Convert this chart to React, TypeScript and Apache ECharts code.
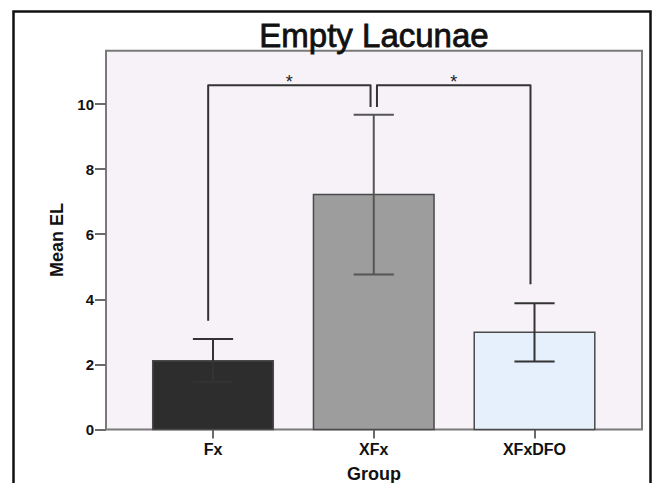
import React, { useEffect, useRef } from "react";
import * as echarts from "echarts";

const categories = ["Fx", "XFx", "XFxDFO"];
const means = [2.11, 7.22, 2.99];
const errLow = [1.47, 4.76, 2.09];
const errHigh = [2.78, 9.67, 3.88];
const barColors = ["#2d2d2d", "#9d9d9d", "#e6f0fd"];
const yTicks = [0, 2, 4, 6, 8, 10];
const xTicks = [0, 1, 2];

// significance brackets (x in category units, y in data units)
const bracketFrom = [-0.03, 1.02];
const bracketTo = [0.98, 1.975];
const bracketTop = [10.58, 10.58];
const bracketLeftEnd = [3.34, 9.91];
const bracketRightEnd = [9.91, 4.46];
const bracketLabel = ["*", "*"];

const FONT = "'Liberation Sans', Arial, sans-serif";

export default function App() {
  const ref = useRef<HTMLDivElement>(null);
  useEffect(() => {
    if (!ref.current) return;
    const chart = echarts.init(ref.current, null, { renderer: "svg" });
    const barData = categories.map((_, i) => [i, means[i]]);
    const errData = categories.map((_, i) => [i, errLow[i], errHigh[i]]);
    const brData = bracketFrom.map((_, i) => [
      bracketFrom[i],
      bracketTo[i],
      bracketTop[i],
      bracketLeftEnd[i],
      bracketRightEnd[i],
    ]);
    chart.setOption({
      animation: false,
      backgroundColor: "#ffffff",
      graphic: [
        {
          type: "rect",
          shape: { x: 13.5, y: 11.5, width: 637, height: 520 },
          style: { fill: "none", stroke: "#111", lineWidth: 2.5 },
          z: 100,
        },
        {
          type: "text",
          x: 374,
          y: 35,
          style: {
            text: "Empty Lacunae",
            fontSize: 33,
            fontFamily: FONT,
            fill: "#111",
            stroke: "#111",
            lineWidth: 0.8,
            textAlign: "center",
            textVerticalAlign: "middle",
          },
        },
      ],
      grid: {
        left: 106,
        right: 10,
        top: 50.7,
        bottom: 53.5,
        containLabel: false,
        outerBoundsMode: "none",
        show: true,
        backgroundColor: "#f6f2f8",
        borderColor: "#7a7a7a",
        borderWidth: 2,
      },
      xAxis: {
        type: "value",
        min: -0.6656,
        max: 2.6687,
        name: "Group",
        nameLocation: "middle",
        nameGap: 35,
        nameTextStyle: { fontSize: 18, fontWeight: "bold", fontFamily: FONT, color: "#111" },
        axisLine: { show: false, onZero: false },
        splitLine: { show: false },
        axisTick: { show: true, customValues: xTicks, length: 9, lineStyle: { color: "#6a6a6a", width: 2 } },
        axisLabel: {
          customValues: xTicks,
          formatter: (v: number) => categories[Math.round(v)] ?? "",
          fontSize: 16,
          fontWeight: "bold",
          fontFamily: FONT,
          color: "#111",
          margin: 12,
        },
      },
      yAxis: {
        type: "value",
        min: 0,
        max: 11.64,
        name: "Mean EL",
        nameLocation: "middle",
        nameGap: 39,
        nameTextStyle: { fontSize: 18, fontWeight: "bold", fontFamily: FONT, color: "#111" },
        axisLine: { show: false, onZero: false },
        splitLine: { show: false },
        axisTick: { show: true, customValues: yTicks, length: 11, lineStyle: { color: "#6a6a6a", width: 2 } },
        axisLabel: {
          customValues: yTicks,
          fontSize: 15,
          fontWeight: "bold",
          fontFamily: FONT,
          color: "#111",
          margin: 12,
        },
      },
      series: [
        {
          type: "custom",
          data: barData,
          renderItem: (params: any, api: any) => {
            const x = api.value(0);
            const top = api.coord([x, api.value(1)]);
            const base = api.coord([x, 0]);
            const w = api.size([0.75, 0])[0];
            return {
              type: "rect",
              shape: { x: top[0] - w / 2, y: top[1], width: w, height: base[1] - top[1] },
              style: { fill: barColors[params.dataIndex], stroke: "#4a4a4a", lineWidth: 1.5 },
            };
          },
          z: 2,
        },
        {
          type: "custom",
          data: errData,
          renderItem: (params: any, api: any) => {
            const x = api.value(0);
            const lo = api.coord([x, api.value(1)]);
            const hi = api.coord([x, api.value(2)]);
            const cw = api.size([0.25, 0])[0] / 2;
            const st = { stroke: params.dataIndex === 1 ? "#555" : "#333", lineWidth: 2 };
            return {
              type: "group",
              children: [
                { type: "line", shape: { x1: hi[0], y1: hi[1], x2: lo[0], y2: lo[1] }, style: st },
                { type: "line", shape: { x1: hi[0] - cw, y1: hi[1], x2: hi[0] + cw, y2: hi[1] }, style: st },
                { type: "line", shape: { x1: lo[0] - cw, y1: lo[1], x2: lo[0] + cw, y2: lo[1] }, style: st },
              ],
            };
          },
          z: 3,
        },
        {
          type: "custom",
          data: brData,
          renderItem: (params: any, api: any) => {
            const x1 = api.value(0);
            const x2 = api.value(1);
            const t = api.value(2);
            const p1 = api.coord([x1, api.value(3)]);
            const p2 = api.coord([x1, t]);
            const p3 = api.coord([x2, t]);
            const p4 = api.coord([x2, api.value(4)]);
            return {
              type: "group",
              children: [
                {
                  type: "polyline",
                  shape: { points: [p1, p2, p3, p4] },
                  style: { stroke: "#333", lineWidth: 2, fill: "none", lineJoin: "round" },
                },
                {
                  type: "text",
                  x: (p2[0] + p3[0]) / 2,
                  y: p2[1] - 3,
                  style: {
                    text: bracketLabel[params.dataIndex],
                    fontSize: 18,
                    fontFamily: FONT,
                    fill: "#222",
                    textAlign: "center",
                    textVerticalAlign: "middle",
                  },
                },
              ],
            };
          },
          z: 4,
        },
      ],
    });
    return () => chart.dispose();
  }, []);
  return (
    <div
      ref={ref}
      style={{ position: "fixed", left: 0, top: 0, width: 652, height: 483 }}
    />
  );
}
